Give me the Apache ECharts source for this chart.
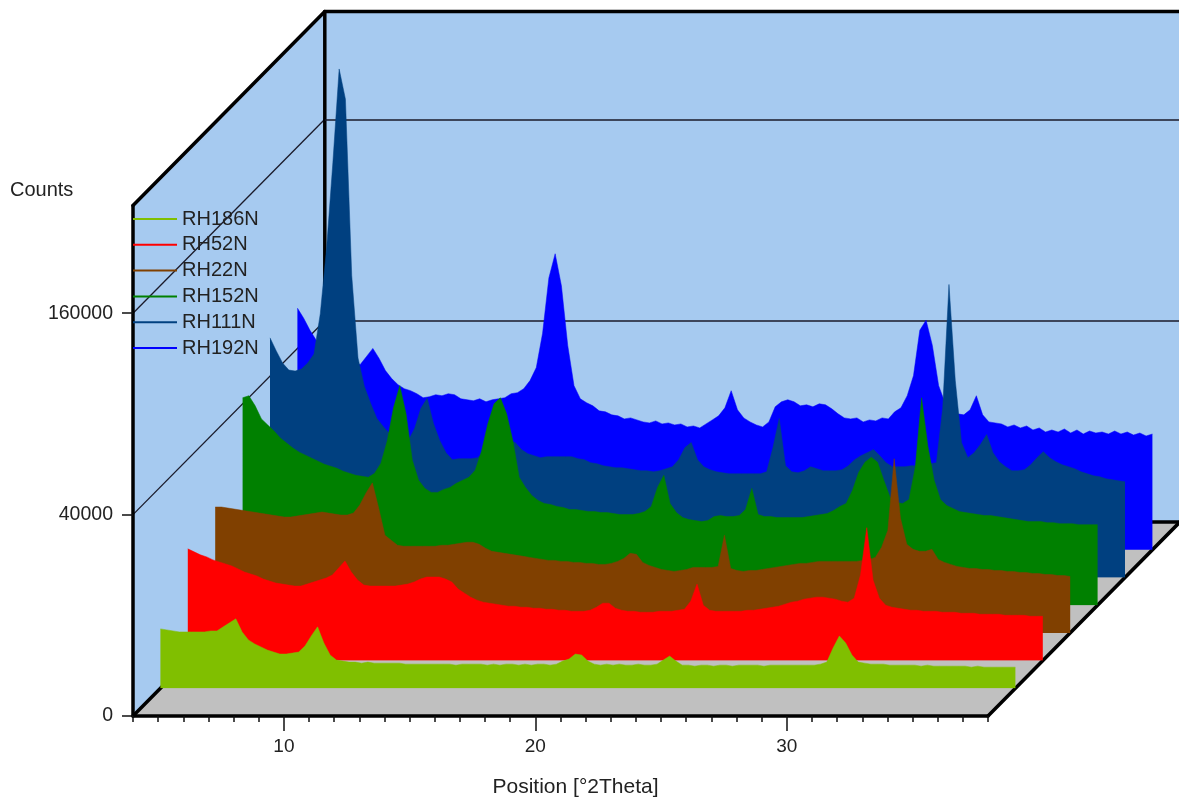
<!DOCTYPE html>
<html>
<head>
<meta charset="utf-8">
<style>html,body{margin:0;padding:0;background:#fff}#c{width:1179px;height:798px}</style>
<script src="https://cdn.jsdelivr.net/npm/echarts@6/dist/echarts.min.js"></script>
</head>
<body>
<div id="c"></div>
<script>
// Position grid: 4 to 38 degrees 2Theta in quarter-degree steps (137 readings per scan).
// The count axis of this instrument plot is a square-root axis: values below are
// sqrt(counts).
const startPos = 4, stepPos = 0.25;
const RH186N = [59,58,57,56,56,56,56,56,57,57,61,65,69,56,48,44,41,38,36,34,34,35,36,42,52,61,45,33,28,27,26,26,25,26,25,25,25,25,25,24,24,24,24,24,24,24,24,23,24,24,24,24,23,24,23,24,24,23,24,23,24,24,23,24,27,29,34,33,27,24,23,24,23,24,23,23,24,23,23,24,28,32,27,23,23,22,23,23,22,23,23,22,23,23,23,23,22,23,23,23,23,23,23,23,23,24,26,40,52,45,33,26,25,24,24,24,23,23,23,23,23,22,23,22,22,22,22,22,22,21,22,21,21,21,21,21,21];
const RH52N = [111,108,105,103,100,98,96,94,91,88,86,84,81,79,77,76,75,74,74,76,78,80,82,85,92,99,88,80,75,74,74,74,74,74,75,76,78,81,83,83,83,81,78,71,67,63,60,58,57,56,55,54,54,53,53,52,52,51,51,50,50,49,49,49,50,53,57,57,52,50,49,49,48,48,48,49,49,49,50,51,59,76,55,50,49,49,49,49,49,50,50,51,52,53,54,56,58,59,61,62,63,63,62,61,59,58,62,85,132,80,62,55,53,52,51,50,50,49,49,49,48,48,48,47,47,47,46,46,46,46,45,45,45,45,44,44,44];
const RH22N = [125,125,124,123,122,121,120,119,118,117,116,115,115,116,117,118,119,120,119,118,117,117,119,127,139,149,124,97,92,87,86,86,86,86,86,86,87,87,88,89,90,90,88,84,81,80,79,78,77,76,75,74,73,72,72,71,71,70,70,69,69,68,68,69,71,74,79,78,70,67,65,63,62,61,62,63,65,65,65,65,66,97,64,62,61,62,62,63,64,65,66,67,68,69,69,70,71,71,71,71,71,71,71,72,73,75,85,102,173,114,88,83,81,81,83,73,70,68,66,65,64,64,63,63,62,62,61,61,60,60,59,59,58,58,57,57,56];
const RH152N = [206,208,198,185,179,173,166,161,156,152,149,146,143,140,138,136,133,131,129,128,127,131,141,163,196,218,190,144,124,116,112,112,115,117,121,124,127,134,153,180,200,206,190,163,127,117,109,104,101,100,98,97,95,95,94,93,93,92,92,91,90,90,90,91,93,98,117,129,101,92,87,85,84,83,84,88,89,88,88,89,95,116,90,88,88,87,87,87,87,87,88,89,90,91,94,98,101,114,132,142,147,142,124,107,102,101,105,137,206,158,124,105,99,96,93,92,91,90,89,89,88,87,86,85,84,83,83,83,82,82,81,81,81,80,80,80,80];
const RH111N = [238,225,213,206,205,207,213,222,262,327,412,505,475,300,218,190,173,158,150,143,136,134,136,148,168,178,153,136,124,117,118,118,118,119,124,134,139,139,136,134,127,123,121,119,120,120,120,120,120,118,117,114,113,111,110,109,109,108,107,106,106,105,106,108,110,117,129,134,117,110,107,105,104,103,103,103,103,103,103,105,129,158,111,105,104,106,110,108,106,106,106,107,111,117,121,124,127,121,114,110,110,110,111,111,112,113,114,168,291,196,134,119,124,132,142,124,115,110,106,106,107,112,119,125,119,115,112,110,108,105,103,101,100,98,97,96,95];
const RH192N = [240,230,218,208,203,198,193,188,186,184,184,192,200,190,178,170,164,160,158,155,151,152,154,153,155,154,150,149,148,150,147,149,150,151,155,156,160,168,181,215,270,294,262,203,163,150,146,143,138,137,134,133,130,131,129,127,126,128,125,126,124,125,122,123,121,125,129,133,141,158,139,131,127,124,122,127,142,147,149,147,143,144,142,145,144,140,135,131,130,131,127,129,128,131,130,137,141,153,173,218,228,203,163,146,139,135,134,139,153,134,127,126,125,122,124,121,123,119,121,117,119,117,120,116,119,115,118,116,117,115,118,115,117,114,116,113,115];

const seriesNames = ['RH192N','RH111N','RH152N','RH22N','RH52N','RH186N'];
const seriesValues = [RH192N,RH111N,RH152N,RH22N,RH52N,RH186N];
const seriesColors = ['#0000FF','#004080','#008000','#804000','#FF0000','#80BF00'];
const legendOrder = ['RH186N','RH52N','RH22N','RH152N','RH111N','RH192N'];
const yTicks = [0,40000,160000];
const xLabels = [10,20,30];
const xMin = 4, xMax = 38;

// Plot geometry
const X0 = 133, Y0 = 716, W = 855, PXROOT = 1.007;
const DX = 27.4, DY = 27.7, LAYERS = 7;
const TOPROOT = 507;
const BX = X0 + DX * LAYERS, BY = Y0 - DY * LAYERS;
const TOPY = Y0 - TOPROOT * PXROOT, TOPBACK = TOPY - DY * LAYERS;

const grids = [], xAxes = [], yAxes = [], series = [];
const hiddenX = i => ({gridIndex:i,type:'value',min:xMin,max:xMax,show:false});
// grid 0: the front axes
grids.push({left:X0,top:Y0-400*PXROOT,width:W,height:400*PXROOT,outerBoundsMode:'none'});
xAxes.push({gridIndex:0,type:'value',min:xMin,max:xMax,interval:1,position:'bottom',
  axisLine:{show:false},splitLine:{show:false},axisLabel:{show:false},
  axisTick:{show:true,length:6,inside:false,lineStyle:{color:'#111',width:1.5}}});
xAxes.push({gridIndex:0,type:'value',min:xMin,max:xMax,position:'bottom',
  axisLine:{show:false},splitLine:{show:false},
  axisTick:{show:true,length:15,customValues:xLabels,lineStyle:{color:'#111',width:1.5}},
  axisLabel:{show:true,customValues:xLabels,fontFamily:'Liberation Sans',fontSize:19,color:'#222',margin:21,formatter:v=>String(v)},
  name:'Position [°2Theta]',nameLocation:'middle',nameGap:61,
  nameTextStyle:{fontFamily:'Liberation Sans',fontSize:21,color:'#222',padding:[0,0,0,30]}});
yAxes.push({gridIndex:0,type:'value',min:0,max:400,interval:200,
  axisLine:{show:false},splitLine:{show:false},
  axisTick:{show:true,length:11,lineStyle:{color:'#111',width:1.5}},
  axisLabel:{fontFamily:'Liberation Sans',fontSize:19.5,color:'#222',margin:20,verticalAlignMinLabel:'middle',verticalAlignMaxLabel:'middle',
    formatter:v=>String(yTicks.find(t=>Math.sqrt(t)===v))}});
series.push({type:'line',xAxisIndex:0,yAxisIndex:0,data:[],silent:true});

// back wall gridlines
grids.push({left:BX,top:BY-400*PXROOT,width:W+4,height:400*PXROOT,outerBoundsMode:'none'});
xAxes.push(hiddenX(1));
yAxes.push({gridIndex:1,type:'value',min:0,max:400,interval:200,
  axisLine:{show:false},axisTick:{show:false},axisLabel:{show:false},
  splitLine:{show:true,showMinLine:false,lineStyle:{color:'#1a1a2a',width:1.6}}});

// one depth layer per scan, back to front
seriesNames.forEach((name,n)=>{
  const k = 6 - n, gi = n + 2, H = 520*PXROOT;
  grids.push({left:X0+DX*k,top:Y0-DY*k-H,width:W,height:H,outerBoundsMode:'none'});
  xAxes.push(hiddenX(gi));
  yAxes.push({gridIndex:gi,type:'value',min:0,max:520,show:false});
  series.push({name,type:'line',xAxisIndex:gi+1,yAxisIndex:gi,
    data:seriesValues[n].map((v,i)=>[startPos+i*stepPos,v]),
    showSymbol:false,symbol:'none',silent:true,z:2+n,
    lineStyle:{color:seriesColors[n],width:0.5},itemStyle:{color:seriesColors[n]},
    areaStyle:{color:seriesColors[n],opacity:1}});
});

const black = {stroke:'#000',lineWidth:3.5,lineCap:'round'};
const thin = {stroke:'#1a1a2a',lineWidth:1.3};
const seg = (x1,y1,x2,y2,style,z) => ({type:'line',z:z,silent:true,shape:{x1,y1,x2,y2},style});
const graphic = [
  {type:'polygon',z:-5,silent:true,shape:{points:[[X0,Y0],[X0,TOPY],[BX,TOPBACK],[BX,BY]]},style:{fill:'#A6CAF0'}},
  {type:'polygon',z:-5,silent:true,shape:{points:[[BX,TOPBACK],[1179,TOPBACK],[1179,BY],[BX,BY]]},style:{fill:'#A6CAF0'}},
  {type:'polygon',z:-4,silent:true,shape:{points:[[X0,Y0],[X0+W,Y0],[BX+W,BY],[BX,BY]]},style:{fill:'#C0C0C0'}},
  ...[200,400].map(r=>seg(X0,Y0-r*PXROOT,BX,BY-r*PXROOT,thin,-3)),
  seg(X0,Y0,X0,TOPY,black,-2),
  seg(X0,TOPY,BX,TOPBACK,black,-2),
  seg(BX,TOPBACK,1179,TOPBACK,black,-2),
  seg(BX,TOPBACK,BX,BY,black,-2),
  seg(BX,BY,1179,BY,black,-2),
  seg(X0,Y0,X0+DX*7,Y0-DY*7,black,-3.5),
  seg(X0,Y0,X0+W,Y0,black,-2),
  seg(X0+W,Y0,X0+W+DX*7,Y0-DY*7,black,-2)
];

const chart = echarts.init(document.getElementById('c'),null,{renderer:'canvas'});
chart.setOption({
  animation:false,
  backgroundColor:'#fff',
  title:{text:'Counts',left:10,top:180,padding:0,textStyle:{fontFamily:'Liberation Sans',fontSize:20,fontWeight:'normal',color:'#222'}},
  legend:{data:legendOrder,orient:'vertical',left:133,top:209,padding:0,itemWidth:44,itemHeight:2,itemGap:5.8,icon:'rect',
    textStyle:{fontFamily:'Liberation Sans',fontSize:20,color:'#222',lineHeight:20,height:20},selectedMode:false},
  tooltip:{show:false},
  grid:grids,xAxis:xAxes,yAxis:yAxes,series,graphic
});
</script>
</body>
</html>
